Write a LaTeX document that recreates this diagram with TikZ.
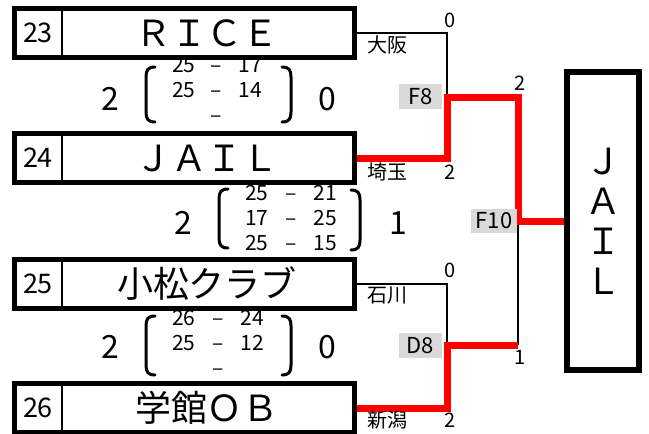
\documentclass[tikz,border=0pt]{standalone}
\usepackage{fontspec}
\setmainfont{Noto Sans CJK JP}
\usetikzlibrary{positioning}
\begin{document}
\begin{tikzpicture}[x=1pt,y=-1pt,
    teambox/.style={draw,line width=5pt,minimum width=340pt,minimum height=49pt,inner sep=0pt},
    champbox/.style={draw,line width=6pt,minimum width=72pt,minimum height=298pt,inner sep=0pt},
    wire/.style={line width=2pt},
    win/.style={red,line width=7pt},
    gamebox/.style={fill=gray!30,minimum width=43pt,minimum height=25pt,inner sep=0pt,font=\fontsize{22}{22}\selectfont},
    setnum/.style={inner sep=0pt,font=\fontsize{20}{20}\selectfont},
    place/.style={inner sep=0pt,font=\fontsize{20}{20}\selectfont},
    bignum/.style={inner sep=0pt,font=\fontsize{32}{32}\selectfont},
    sets/.style={inner sep=0pt,font=\fontsize{21}{25}\selectfont},
    bracket/.style={line width=3pt,line cap=round}]
  \useasboundingbox (0,0) rectangle (649,434);

  % Team boxes with their entry numbers
  \foreach \n/\y/\team in {23/33/ＲＩＣＥ,24/158/ＪＡＩＬ,25/284/小松クラブ,26/408/学館ＯＢ} {
    \node [teambox] (t\n) at (184.5,\y) {};
    \draw [line width=2pt] ([xshift=50pt]t\n.north west) -- ([xshift=50pt]t\n.south west);
    \node [inner sep=0pt,font=\fontsize{27}{27}\selectfont] (n\n) at (38,\y) {\n};
    \node [inner sep=0pt,font=\fontsize{36}{36}\selectfont] (name\n) at (207,\y) {\team};
  }

  % Winner box
  \node [champbox] (champ) at (603,221) {};
  \node [inner sep=0pt,align=center,font=\fontsize{36}{40}\selectfont] (champname) at (603,221) {Ｊ\\Ａ\\Ｉ\\Ｌ};

  % Junctions of the bracket
  \coordinate (jf8) at (447,97);
  \coordinate (jd8) at (447,345);
  \coordinate (jf10) at (518,221);

  % Losing lines
  \draw [wire] (t23.east) -| (jf8);
  \draw [wire] (t25.east) -| (jd8);
  \draw [wire] (jd8 -| jf10) -- (jf10);

  % Winning lines
  \draw [win] (t24.east) -| (jf8) -| (jf10) -- (champ.west);
  \draw [win] (t26.east) -| (jd8) -- (jd8 -| jf10);

  % Game numbers
  \node [gamebox] (f8) at (420.5,96.5) {F8};
  \node [gamebox,minimum width=46pt,minimum height=24pt] (f10) at (494,221) {F10};
  \node [gamebox] (d8) at (420.5,345.5) {D8};

  % Prefectures and sets won
  \foreach \n/\y/\pref in {23/45/大阪,24/172/埼玉,25/295/石川,26/420/新潟} {
    \node [place] (p\n) at (387,\y) {\pref};
  }
  \node [setnum] (s23) at (450,20) {0};
  \node [setnum] (s24) at (450,172) {2};
  \node [setnum] (s25) at (450,270) {0};
  \node [setnum] (s26) at (450,420) {2};
  \node [setnum] (sf8) at (520,83) {2};
  \node [setnum] (sd8) at (520,357) {1};

  % Set scores
  \node [sets] (sc1) at (217,92) {\begin{tabular}{@{}r@{\hspace{15pt}}c@{\hspace{17pt}}l@{}}25&–&17\\25&–&14\\&–&\end{tabular}};
  \node [sets] (sc2) at (291,220) {\begin{tabular}{@{}r@{\hspace{17pt}}c@{\hspace{17pt}}l@{}}25&–&21\\17&–&25\\25&–&15\end{tabular}};
  \node [sets] (sc3) at (218,345) {\begin{tabular}{@{}r@{\hspace{17pt}}c@{\hspace{17pt}}l@{}}26&–&24\\25&–&12\\&–&\end{tabular}};

  % Brackets round the scores
  \foreach \x/\t/\b in {146/67/122,219/189/248,146/316/375} {
    \draw [bracket] (\x+9,\t) .. controls (\x+2,\t) and (\x,\t+3) .. (\x,\t+10) -- (\x,\b-10) .. controls (\x,\b-3) and (\x+2,\b) .. (\x+9,\b);
  }
  \foreach \x/\t/\b in {291/67/122,360/190/250,291/316/375} {
    \draw [bracket] (\x-9,\t) .. controls (\x-2,\t) and (\x,\t+3) .. (\x,\t+10) -- (\x,\b-10) .. controls (\x,\b-3) and (\x-2,\b) .. (\x-9,\b);
  }

  % Sets won in each match
  \node [bignum] (w1l) at (110,99) {2};
  \node [bignum] (w1r) at (327,99) {0};
  \node [bignum] (w2l) at (183,223) {2};
  \node [bignum] (w2r) at (398,223) {1};
  \node [bignum] (w3l) at (110,347) {2};
  \node [bignum] (w3r) at (327,347) {0};
\end{tikzpicture}
\end{document}
